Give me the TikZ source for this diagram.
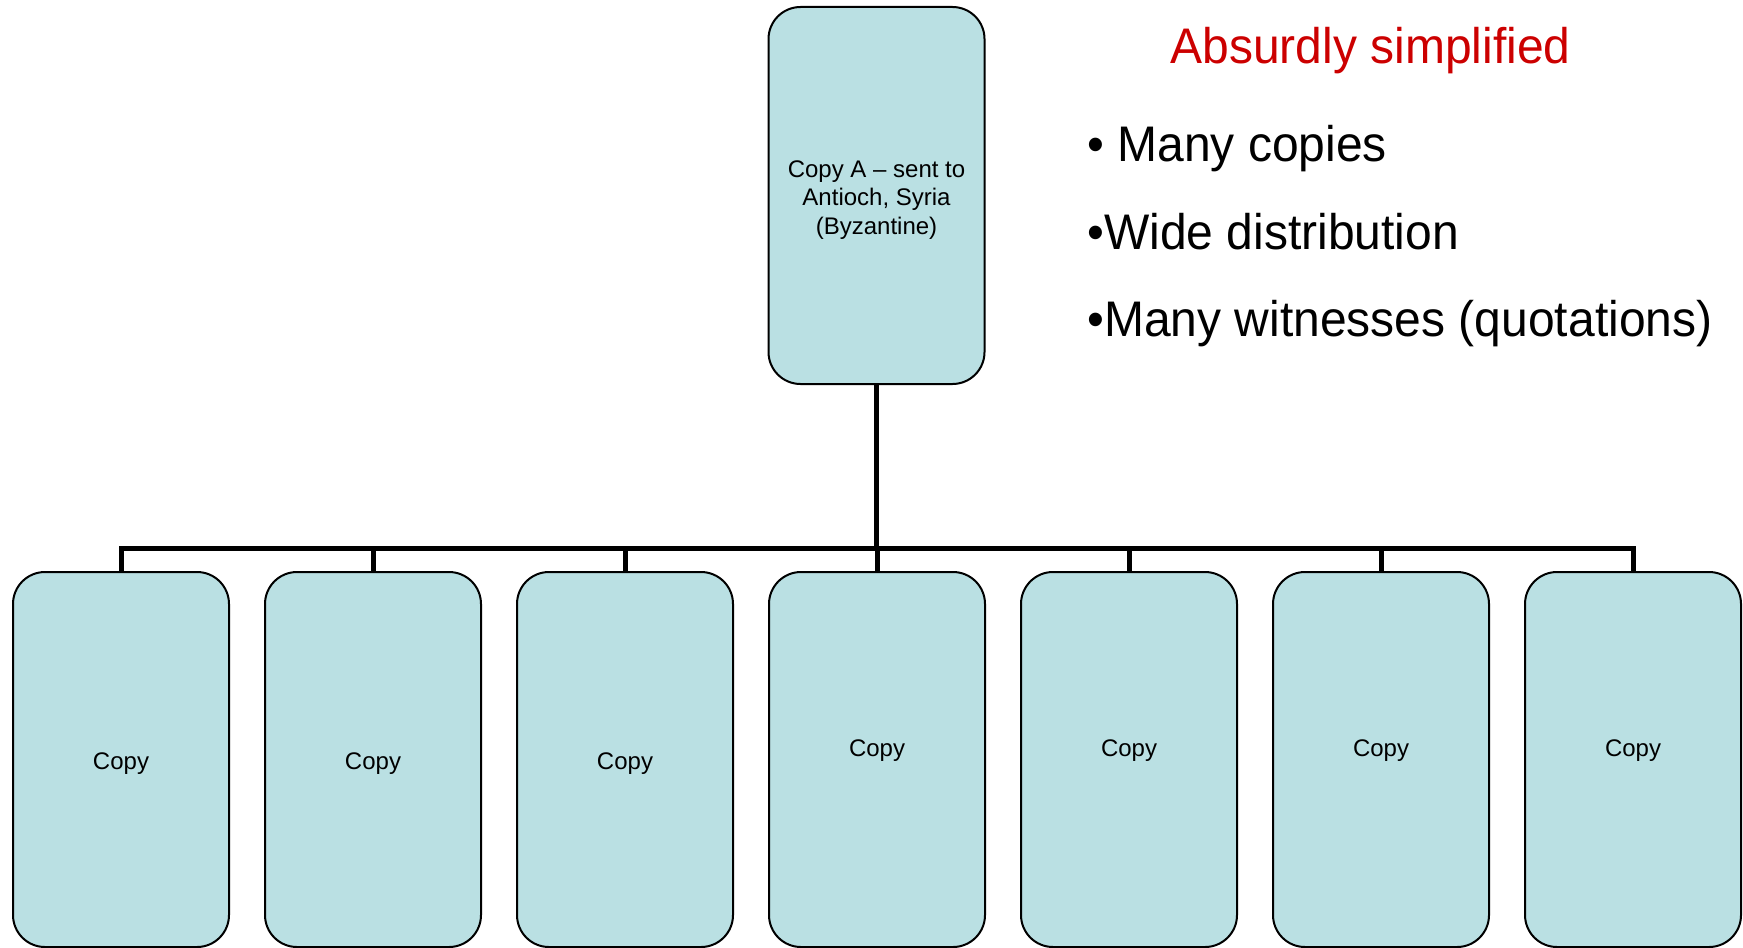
\documentclass[tikz,border=0pt]{standalone}
\usepackage{fontspec}
\setmainfont{Liberation Sans}
\definecolor{boxfill}{RGB}{186,224,227}
\definecolor{titlered}{RGB}{204,0,0}
\newcommand{\narrow}[1]{\scalebox{0.96}[1]{#1}}
\begin{document}
\begin{tikzpicture}[x=0.5pt,y=-0.5pt,
  copybox/.style={draw=black, line width=1pt, fill=boxfill, rounded corners=16pt,
    minimum width=108pt, minimum height=187.5pt, inner sep=0pt},
  boxtext/.style={font=\fontsize{12}{14.25}\selectfont, align=center, inner sep=0pt},
  conn/.style={draw=black, line width=2.5pt, line join=miter},
  bigtext/.style={font=\fontsize{25}{30}\selectfont, anchor=base west, inner sep=0pt}]
  \useasboundingbox (0,0) rectangle (1743,947);

  % root copy
  \node[copybox, minimum height=188.5pt] (root) at (876.5,195.5) {};
  \node[boxtext, anchor=north] (roottext) at (876.5,160)
    {Copy A -- sent to\\ Antioch, Syria\\ (Byzantine)};

  % seven descendant copies
  \foreach \i/\cx in {1/121,2/373,3/625,4/877,5/1129,6/1381,7/1633} {
    \node[copybox] (c\i) at (\cx,759.5) {};
  }
  \foreach \i/\cx in {1/121,2/373,3/625} {
    \node[boxtext] (t\i) at (\cx,764) {Copy};
  }
  \foreach \i/\cx in {4/877,5/1129,6/1381,7/1633} {
    \node[boxtext] (t\i) at (\cx,751) {Copy};
  }

  % connectors
  \coordinate (bus) at (0,548);
  \draw[conn] (c1.north) -- (c1.north |- bus) -- (c7.north |- bus) -- (c7.north);
  \draw[conn] (root.south) -- (root.south |- bus);
  \foreach \i in {2,...,6} {
    \draw[conn] (c\i.north |- bus) -- (c\i.north);
  }

  % notes
  \node[bigtext, text=titlered] (title) at (1170,64) {\narrow{Absurdly simplified}};
  \node[bigtext] (b1) at (1087,161) {\narrow{• Many copies}};
  \node[bigtext] (b2) at (1087,249) {\narrow{•Wide distribution}};
  \node[bigtext] (b3) at (1087,336) {\narrow{•Many witnesses (quotations)}};
\end{tikzpicture}
\end{document}
